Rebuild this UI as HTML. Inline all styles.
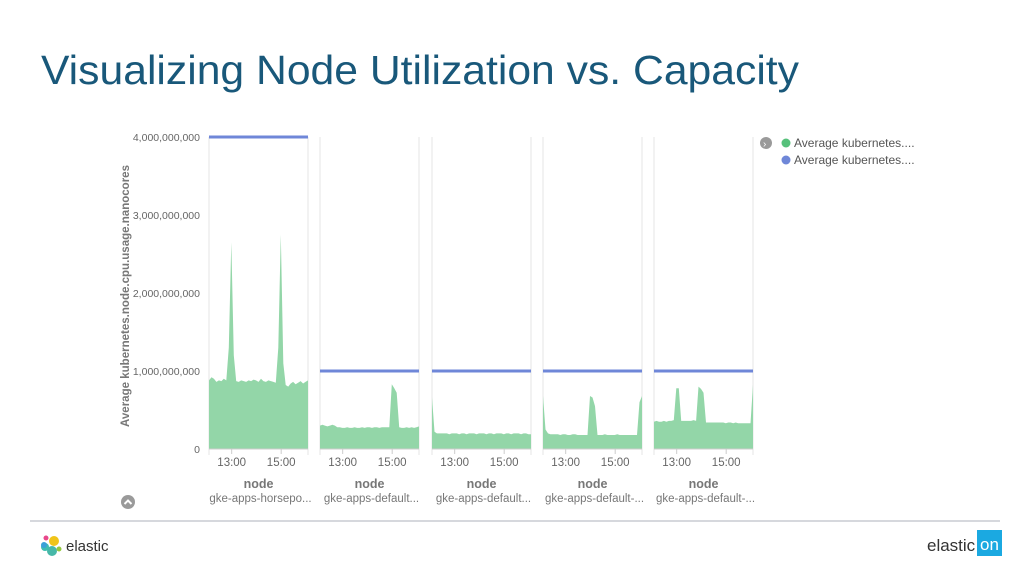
<!DOCTYPE html>
<html><head><meta charset="utf-8"><style>
body{margin:0;width:1024px;height:576px;background:#fff;overflow:hidden;font-family:"Liberation Sans",sans-serif}
svg{position:absolute;left:0;top:0}
</style></head><body>
<svg width="1024" height="576">
<text x="41" y="84" font-size="41" fill="#19587a" textLength="758" lengthAdjust="spacingAndGlyphs">Visualizing Node Utilization vs. Capacity</text>
<g id="chart"></g>
<g>
<circle cx="766" cy="143" r="6" fill="#9a9a9a"/>
<text x="763" y="147" font-size="10" fill="#fff">›</text>
<circle cx="786" cy="143" r="4.5" fill="#57c17b"/>
<text x="794" y="147" font-size="12" fill="#555">Average kubernetes....</text>
<circle cx="786" cy="160" r="4.5" fill="#6f87d8"/>
<text x="794" y="164" font-size="12" fill="#555">Average kubernetes....</text>
</g>
<circle cx="128" cy="502" r="7" fill="#9a9a9a"/>
<path d="M124.5 504 L128 500.5 L131.5 504" stroke="#fff" stroke-width="2" fill="none"/>
<line x1="30" y1="521" x2="1000" y2="521" stroke="#c8ccd2" stroke-width="1.5"/>
<g>
<circle cx="54" cy="541" r="5" fill="#f0c419"/><circle cx="46" cy="538" r="2.5" fill="#e8478b"/>
<circle cx="45" cy="547" r="4" fill="#3ebeb0"/><circle cx="52" cy="551" r="5" fill="#47b8a8"/>
<circle cx="59" cy="549" r="2.5" fill="#93c83e"/><circle cx="44" cy="545" r="3" fill="#3ba0d8"/>
<text x="66" y="551" font-size="15" fill="#333">elastic</text>
</g>
<g>
<text x="927" y="551" font-size="17" fill="#333">elastic</text>
<rect x="977" y="530" width="25" height="26" fill="#1ba9e1"/>
<text x="980" y="550" font-size="17" fill="#fff">on</text>
</g>
</svg>
<script>
const panelNames=["gke-apps-horsepo...","gke-apps-default...","gke-apps-default...","gke-apps-default-...","gke-apps-default-..."];
const capacity=[4.0,1.0,1.0,1.0,1.0];
const yTicks=[0,1,2,3,4];
const yTickLabels=["0","1,000,000,000","2,000,000,000","3,000,000,000","4,000,000,000"];
const xTicks=[55,175];
const xTickLabels=["13:00","15:00"];
const u1=[0.88,0.92,0.90,0.86,0.88,0.87,0.90,0.88,1.3,2.65,1.2,0.87,0.86,0.88,0.87,0.86,0.88,0.87,0.89,0.88,0.86,0.90,0.87,0.86,0.88,0.87,0.86,0.85,1.3,2.75,1.1,0.82,0.80,0.84,0.86,0.83,0.85,0.87,0.84,0.86,0.88];
const u2=[0.30,0.31,0.30,0.29,0.30,0.31,0.30,0.28,0.28,0.27,0.27,0.28,0.27,0.27,0.28,0.27,0.27,0.28,0.27,0.28,0.28,0.27,0.28,0.28,0.27,0.28,0.28,0.28,0.28,0.83,0.78,0.72,0.28,0.27,0.27,0.28,0.27,0.28,0.27,0.28,0.29];
const u3=[0.66,0.22,0.20,0.20,0.20,0.20,0.20,0.19,0.20,0.20,0.20,0.19,0.20,0.20,0.19,0.20,0.20,0.20,0.19,0.20,0.20,0.20,0.19,0.20,0.20,0.19,0.20,0.20,0.20,0.19,0.20,0.20,0.19,0.20,0.20,0.20,0.19,0.20,0.20,0.19,0.19];
const u4=[0.68,0.25,0.20,0.19,0.19,0.19,0.19,0.18,0.19,0.19,0.18,0.18,0.19,0.19,0.18,0.18,0.18,0.18,0.18,0.68,0.66,0.55,0.18,0.18,0.18,0.19,0.18,0.18,0.18,0.18,0.19,0.18,0.18,0.18,0.18,0.18,0.18,0.18,0.18,0.60,0.68];
const u5=[0.35,0.36,0.35,0.35,0.36,0.35,0.36,0.36,0.37,0.78,0.78,0.36,0.36,0.36,0.36,0.36,0.37,0.36,0.80,0.77,0.72,0.34,0.34,0.34,0.34,0.34,0.34,0.34,0.34,0.33,0.34,0.34,0.33,0.34,0.33,0.33,0.33,0.33,0.33,0.33,0.82];
const usage=[u1,u2,u3,u4,u5];
const NS="http://www.w3.org/2000/svg";
const g=document.getElementById('chart');
const y0=449,yTop=137,vmax=4;
const Y=v=>y0-(v/vmax)*(y0-yTop);
const panelX=[209,320,432,543,654],pw=99,tmax=240;
function mk(t,a){const e=document.createElementNS(NS,t);for(const k in a)e.setAttribute(k,a[k]);g.appendChild(e);return e;}
yTicks.forEach((v,i)=>{
 const t=mk('text',{x:200,y:Y(v)+4,'font-size':10.5,fill:'#666','text-anchor':'end'});t.textContent=yTickLabels[i];
 
 
});
const at=mk('text',{x:0,y:0,'font-size':12,'font-weight':'bold',fill:'#777','text-anchor':'middle',transform:'translate(129,296) rotate(-90)',textLength:262,lengthAdjust:'spacingAndGlyphs'});
at.textContent='Average kubernetes.node.cpu.usage.nanocores';


usage.forEach((vals,p)=>{
 const x0=panelX[p];const X=t=>x0+t/tmax*pw;
 [x0,x0+pw].forEach(x=>{const l=mk('line',{x1:x,y1:yTop,x2:x,y2:y0+6,stroke:'#e4e4e4'});
  
  });
 let d='M'+X(0)+' '+y0;
 vals.forEach((v,i)=>{d+=' L'+X(i*tmax/(vals.length-1)).toFixed(1)+' '+Y(v).toFixed(1);});
 d+=' L'+X(tmax)+' '+y0+' Z';
 const a=mk('path',{d:d,fill:'#93d6a8'});
 
 
 const c=mk('line',{x1:X(0),x2:X(tmax),y1:Y(capacity[p]),y2:Y(capacity[p]),stroke:'#6f87d8','stroke-width':3});
 
 
 const ax=mk('line',{x1:x0,x2:x0+pw,y1:y0,y2:y0,stroke:'#ccc'});
 
 
 xTicks.forEach((t,i)=>{
  const tk=mk('line',{x1:X(t),x2:X(t),y1:y0,y2:y0+5,stroke:'#ccc'});
  
  
  const tl=mk('text',{x:X(t),y:y0+17,'font-size':11.5,fill:'#666','text-anchor':'middle'});tl.textContent=xTickLabels[i];
  
  
 });
 const n=mk('text',{x:x0+pw/2,y:488,'font-size':12.5,'font-weight':'bold',fill:'#777','text-anchor':'middle'});n.textContent='node';
 
 
 const nn=mk('text',{x:x0+pw/2+2,y:502,'font-size':11.5,fill:'#777','text-anchor':'middle'});nn.textContent=panelNames[p];
 
 
});
</script>
</body></html>
